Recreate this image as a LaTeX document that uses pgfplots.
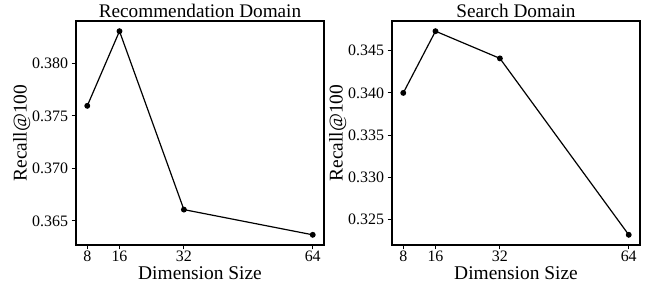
\documentclass[border=0pt]{standalone}
\usepackage{pgfplots}
\pgfplotsset{compat=1.18}
\usepackage{fontspec}
\setmainfont{Liberation Serif}
\begin{document}
\begin{tikzpicture}
\useasboundingbox (0bp,0bp) rectangle (652bp,290bp);
\pgfplotsset{
  myax/.style={
    scale only axis, width=248bp, height=224bp,
    axis line style={line width=1.3bp},
    every tick/.style={black, line width=1bp},
    tick align=outside, major tick length=4.5bp,
    xtick pos=bottom, ytick pos=left,
    xmin=5.2, xmax=66.8,
    xtick={8,16,32,64},
    ticklabel style={font=\fontsize{16}{16}\selectfont},
    xticklabel style={inner ysep=1.5bp},
    label style={font=\fontsize{19.5}{19.5}\selectfont},
    title style={font=\fontsize{19.3}{19.3}\selectfont, yshift=-6bp},
    /pgf/number format/assume math mode=true,
    yticklabel style={/pgf/number format/.cd, fixed, fixed zerofill, precision=3},
    xlabel={Dimension Size}, ylabel={Recall@100},
    xlabel style={yshift=-1.5bp, inner ysep=1bp}, ylabel style={yshift=-5bp},
    scaled y ticks=false,
  }
}
\begin{axis}[myax, at={(76bp,45bp)}, anchor=south west,
  title={Recommendation Domain},
  ymin=0.36270, ymax=0.38403,
  ytick={0.365,0.370,0.375,0.380}]
\addplot[black, line width=1.2bp, mark=*, mark size=2.3bp] coordinates {
(8,0.37595) (16,0.38306) (32,0.36607) (64,0.36367)};
\end{axis}
\begin{axis}[myax, at={(392bp,45bp)}, anchor=south west,
  title={Search Domain},
  ymin=0.32194, ymax=0.34854,
  ytick={0.325,0.330,0.335,0.340,0.345}]
\addplot[black, line width=1.2bp, mark=*, mark size=2.3bp] coordinates {
(8,0.34000) (16,0.34733) (32,0.34410) (64,0.32315)};
\end{axis}
\end{tikzpicture}
\end{document}
